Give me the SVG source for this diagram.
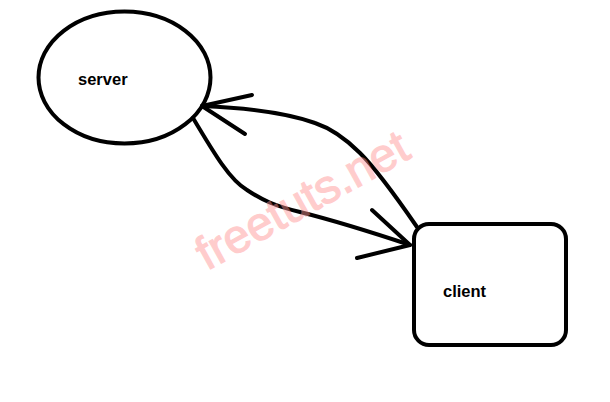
<svg xmlns="http://www.w3.org/2000/svg" width="610" height="402" viewBox="0 0 610 402">
<style>
.shape{fill:#fff;stroke:#000;stroke-width:4}
.lbl{font-family:"Liberation Sans",Arial,sans-serif;font-weight:bold;font-size:16.5px;fill:#000}
.ln{fill:none;stroke:#000;stroke-width:4;stroke-linecap:round;stroke-linejoin:round}
.wm{font-family:"Liberation Sans",Arial,sans-serif;font-size:47px;fill:#ff9595;stroke:#ff9595;stroke-width:1.2}
</style>
<rect width="610" height="402" fill="#fff"/>
<g id="server">
<ellipse class="shape" cx="124.5" cy="77.5" rx="86" ry="66"/>
<text class="lbl" x="78" y="85">server</text>
</g>
<g id="client">
<rect class="shape" x="414" y="224" width="152" height="121" rx="15" ry="15"/>
<text class="lbl" x="443" y="297">client</text>
</g>
<g id="connectors">
<path class="ln" d="M417,227 C395,195 375,168 360,153 C345,138 330,128 315,123 C290,114 250,108 202,106"/>
<path class="ln" d="M252,95 L202,106 L245,134"/>
<path class="ln" d="M193,118 C215,155 230,180 247,190 C262,200 275,206 300,212 C340,222 380,235 410,245"/>
<path class="ln" d="M372,210 L410,245 L357,258"/>
</g>
<g opacity="0.47">
<text class="wm" transform="translate(207,271) rotate(-29)">freetuts.net</text>
</g>
</svg>
